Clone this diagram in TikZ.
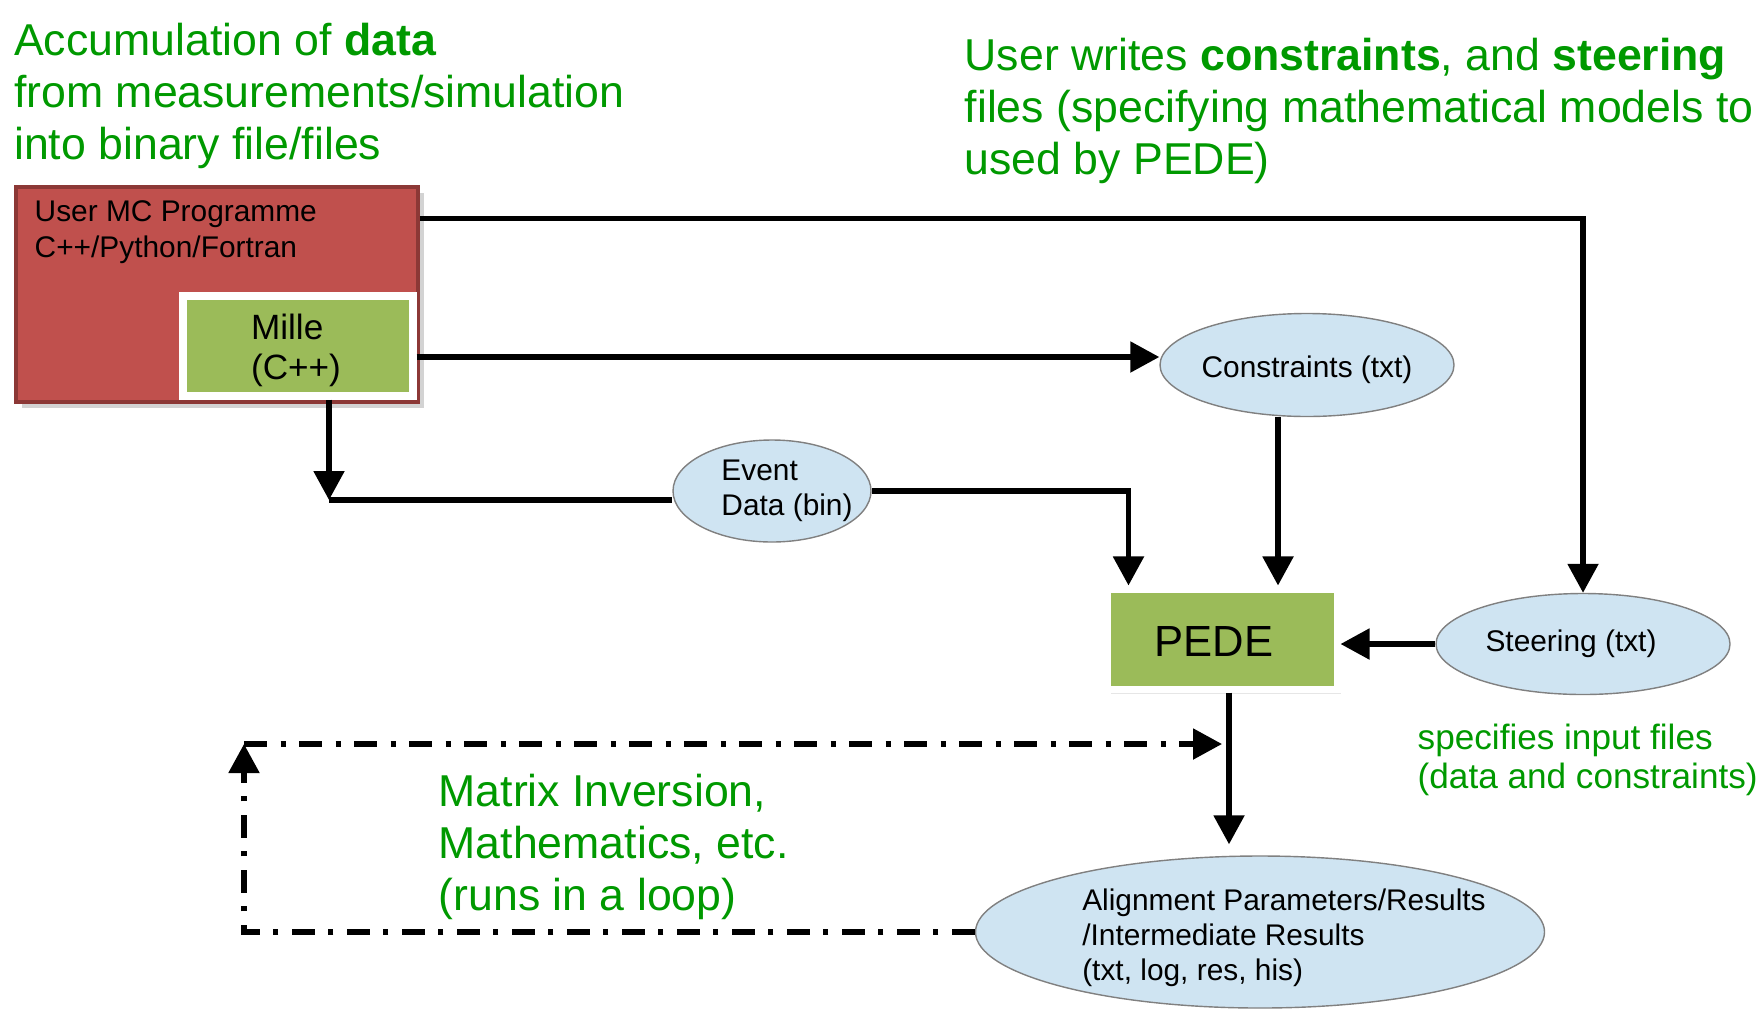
\documentclass[tikz,border=0pt]{standalone}
\usepackage{fontspec}
\setmainfont{Liberation Sans}
\usetikzlibrary{arrows.meta,shapes.geometric,shadows}

\definecolor{mcred}{RGB}{192,80,77}
\definecolor{mcredline}{RGB}{140,56,54}
\definecolor{boxgreen}{RGB}{155,187,89}
\definecolor{fileblue}{RGB}{207,228,242}
\definecolor{notegreen}{RGB}{0,153,0}

\tikzset{
	flow/.style={line width=1.5pt},
	arr/.style={flow,-{Triangle[length=0.29cm,width=0.3cm]}},
	loopline/.style={arr,dash pattern=on 0.23cm off 0.135cm on 0.05cm off 0.135cm},
	file/.style={ellipse,draw=gray,fill=fileblue,inner sep=0pt},
	filetext/.style={align=left,inner sep=0pt,font=\fontsize{8.5}{10}\selectfont},
	prog/.style={rectangle,fill=boxgreen,draw=white,line width=2pt,minimum width=2.3cm,minimum height=1cm},
	note/.style={text=notegreen,align=left,anchor=west,inner sep=0pt,font=\fontsize{12.7}{14.8}\selectfont},
}

\begin{document}
\begin{tikzpicture}
			\useasboundingbox (0,0) rectangle (17.62,10.15);
			
			%%%boxes
			\node[rectangle,fill=mcred,draw=mcredline,line width=1pt,minimum width=4.02cm,minimum height=2.15cm,
				drop shadow={opacity=0.35,shadow xshift=0.6mm,shadow yshift=-0.6mm}] (mc) at (2.17,7.205){};
			\node[anchor=west,align=left,inner sep=0pt,font=\fontsize{8.5}{10.2}\selectfont] (mctext) at (0.34,7.825){User MC Programme\\C++/Python/Fortran};
			\node[prog,minimum width=2.3cm,minimum height=1cm,
				label={[align=left,xshift=-0.2mm,yshift=-0.45mm,font=\fontsize{10}{11.4}\selectfont]center:Mille\\(C++)}] (mille) at (2.98,6.69){};
			\node[prog,drop shadow={opacity=0.2,shadow xshift=0.4mm,shadow yshift=-0.5mm},
				label={[xshift=-0.8mm,yshift=-0.2mm,font=\fontsize{12.4}{14}\selectfont]center:PEDE}] (pede) at (12.22,3.76){};
			
			%%%files
			\node[file,minimum width=2.94cm,minimum height=1.03cm,label={[filetext,yshift=-0.5mm]center:Constraints (txt)}] (cons) at (13.07,6.50){};
			\node[file,minimum width=1.98cm,minimum height=1.02cm,label={[filetext,xshift=1.5mm]center:Event\\Data (bin)}] (evt) at (7.72,5.24){};
			\node[file,minimum width=2.94cm,minimum height=1.01cm,label={[filetext,xshift=-1.2mm]center:Steering (txt)}] (steer) at (15.83,3.71){};
			\node[file,minimum width=5.69cm,minimum height=1.52cm,
				label={[filetext,xshift=2.4mm,yshift=-0.6mm]center:Alignment Parameters/Results\\/Intermediate Results\\(txt, log, res, his)}] (res) at (12.60,0.83){};
			
			\coordinate (drop) at (3.29,5.15);
			\coordinate (loopc) at (2.44,2.71);
			
			%%%arrows
			\draw[arr] ([yshift=-3.3mm]mc.north east) -| (steer.north);
			\draw[arr] ([yshift=-1.1mm]mille.east) -- ([yshift=-1.1mm]mille.east -| cons.west);
			\draw[arr] (drop |- mille.south) -- (drop);
			\draw[flow] (drop) -- (drop -| evt.west);
			\draw[arr] (evt.east) -| ([xshift=2.5mm]pede.north west);
			\draw[arr] ([xshift=-2.9mm]cons.south) -- ([xshift=-2.9mm]cons.south |- pede.north);
			\draw[arr] (steer.west) -- (steer.west -| pede.east);
			\draw[arr,shorten >=1.1mm] ([xshift=0.7mm]pede.south) -- ([xshift=0.7mm]pede.south |- res.north);
			
			%%loop
			\draw[loopline] (res.west) -| (loopc);
			\draw[loopline] (loopc) -- (loopc -| pede.south);
			
			%%notes
			\node[note] (accnote) at (0.135,9.195){Accumulation of \textbf{data}\\from measurements/simulation\\into binary file/files};
			\node[note] (usernote) at (9.64,9.045){User writes \textbf{constraints}, and \textbf{steering}\\files (specifying mathematical models to\\used by PEDE)};
			\node[note,font=\fontsize{10}{11.2}\selectfont] (specnote) at (14.17,2.55){specifies input files\\(data and constraints)};
			\node[note] (loopnote) at (4.38,1.685){Matrix Inversion,\\Mathematics, etc.\\(runs in a loop)};
		\end{tikzpicture}
\end{document}
